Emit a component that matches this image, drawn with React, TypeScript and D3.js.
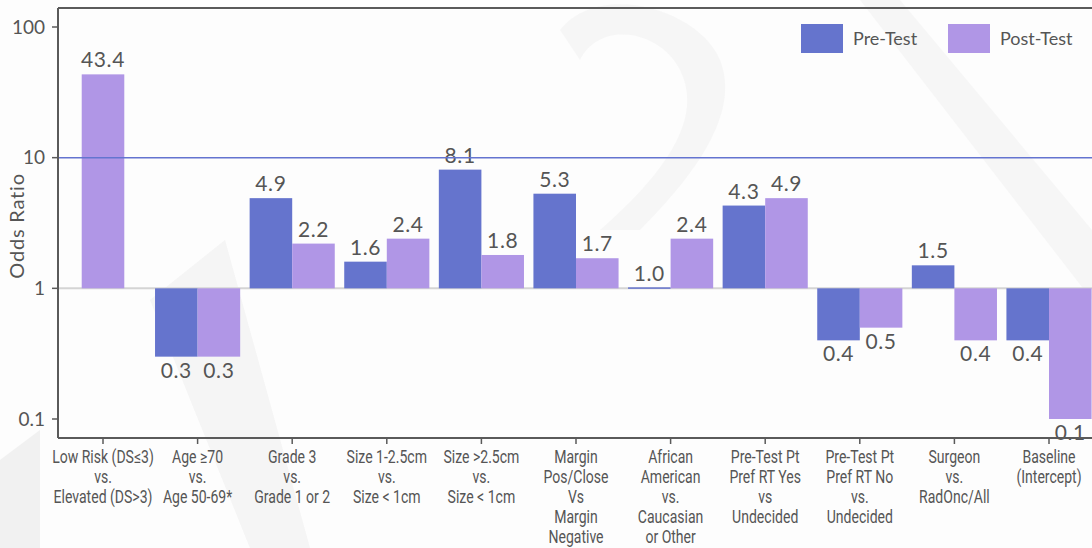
import React, { useEffect, useRef } from "react";
import * as d3 from "d3";

const categories: string[][] = [
  ["Low Risk (DS≤3)", "vs.", "Elevated (DS>3)"],
  ["Age ≥70", "vs.", "Age 50-69*"],
  ["Grade 3", "vs.", "Grade 1 or 2"],
  ["Size 1-2.5cm", "vs.", "Size < 1cm"],
  ["Size >2.5cm", "vs.", "Size < 1cm"],
  ["Margin", "Pos/Close", "Vs", "Margin", "Negative"],
  ["African", "American", "vs.", "Caucasian", "or Other"],
  ["Pre-Test Pt", "Pref RT Yes", "vs", "Undecided"],
  ["Pre-Test Pt", "Pref RT No", "vs.", "Undecided"],
  ["Surgeon", "vs.", "RadOnc/All"],
  ["Baseline", "(Intercept)"],
];
const preTest: (number | null)[] = [null, 0.3, 4.9, 1.6, 8.1, 5.3, 1.0, 4.3, 0.4, 1.5, 0.4];
const postTest: number[] = [43.4, 0.3, 2.2, 2.4, 1.8, 1.7, 2.4, 4.9, 0.5, 0.4, 0.1];
const yTicks: number[] = [0.1, 1, 10, 100];
const yTickLabels: string[] = ["0.1", "1", "10", "100"];
const seriesNames = ["Pre-Test", "Post-Test"];

const PRE = "#6574cd";
const POST = "#b096e6";
const TEXT = "#555555";
const AXIS = "#5a5a5a";
const FONT = "Lato, 'Open Sans', sans-serif";

export default function App() {
  const ref = useRef<SVGSVGElement>(null);
  useEffect(() => {
    const svg = d3.select(ref.current!);
    svg.selectAll("*").remove();
    const W = 1092, H = 548;
    const plotLeft = 58, plotTop = 8, plotBottom = 438;

    svg.append("rect").attr("width", W).attr("height", H).attr("fill", "#fdfdfd");

    // faint watermark shapes
    const wm = svg.append("g").attr("fill", "#f1f1f1");
    wm.append("path").attr("d", "M0,460 L40,430 L40,548 L0,548 Z");
    wm.append("path").attr("d", "M150,300 L225,240 L310,548 L250,548 Z").attr("opacity", 0.7);
    wm.append("path").attr("d", "M560,30 C600,-20 700,10 720,60 C740,110 700,170 640,230 L600,230 C680,160 700,110 680,70 C660,30 600,20 580,60 Z").attr("opacity", 0.6);
    wm.append("path").attr("d", "M860,0 L900,0 L1092,230 L1092,300 Z").attr("opacity", 0.6);

    const x = d3.scaleBand<number>()
      .domain(d3.range(categories.length))
      .range([55.7, 1096.3])
      .paddingInner(0.1)
      .paddingOuter(0.05);
    const y = d3.scaleLog().domain([0.1, 100]).range([419, 27]);
    const half = x.bandwidth() / 2;

    // reference line at 1
    svg.append("line").attr("x1", plotLeft).attr("x2", W)
      .attr("y1", y(1)).attr("y2", y(1)).attr("stroke", "#d4d4d4").attr("stroke-width", 2);

    const bars = svg.append("g");
    categories.forEach((_, i) => {
      const b0 = x(i)!;
      const pre = preTest[i];
      const post = postTest[i];
      const items: { v: number; x0: number; c: string }[] = [];
      if (pre == null) {
        items.push({ v: post, x0: b0 + half / 2, c: POST });
      } else {
        items.push({ v: pre, x0: b0, c: PRE });
        items.push({ v: post, x0: b0 + half, c: POST });
      }
      items.forEach((it) => {
        const yv = y(it.v), y1 = y(1);
        const top = Math.min(yv, y1), h = Math.max(Math.abs(yv - y1), 1.5);
        bars.append("rect").attr("x", it.x0).attr("y", it.v === 1 ? y1 - 1 : top)
          .attr("width", half).attr("height", h).attr("fill", it.c);
        const pos = it.v >= 1;
        bars.append("text").attr("x", it.x0 + half / 2)
          .attr("y", pos ? yv - 7 : yv + 21)
          .attr("text-anchor", "middle").attr("fill", TEXT)
          .attr("font-family", FONT).attr("font-size", 21).attr("letter-spacing", 0.6)
          .text(it.v.toFixed(1));
      });
    });

    // 10 line
    svg.append("line").attr("x1", plotLeft).attr("x2", W)
      .attr("y1", y(10)).attr("y2", y(10)).attr("stroke", "#6474d0").attr("stroke-width", 1.5);

    // axes frame
    svg.append("line").attr("x1", plotLeft).attr("x2", W).attr("y1", plotTop).attr("y2", plotTop)
      .attr("stroke", AXIS).attr("stroke-width", 2);
    svg.append("line").attr("x1", plotLeft).attr("x2", plotLeft).attr("y1", plotTop).attr("y2", plotBottom)
      .attr("stroke", AXIS).attr("stroke-width", 2);
    svg.append("line").attr("x1", plotLeft).attr("x2", W).attr("y1", plotBottom).attr("y2", plotBottom)
      .attr("stroke", AXIS).attr("stroke-width", 2);

    // y ticks
    yTicks.forEach((t, i) => {
      svg.append("line").attr("x1", plotLeft - 6).attr("x2", plotLeft)
        .attr("y1", y(t)).attr("y2", y(t)).attr("stroke", AXIS).attr("stroke-width", 1.5);
      svg.append("text").attr("x", plotLeft - 13).attr("y", y(t)).attr("dy", "0.35em")
        .attr("text-anchor", "end").attr("fill", TEXT)
        .attr("font-family", FONT).attr("font-size", 19)
        .text(yTickLabels[i]);
    });
    svg.append("text").attr("transform", `translate(24,${(plotTop + plotBottom) / 2 + 3}) rotate(-90)`)
      .attr("text-anchor", "middle").attr("fill", TEXT)
      .attr("font-family", FONT).attr("font-size", 20).attr("letter-spacing", 0.8)
      .text("Odds Ratio");

    // x ticks and labels
    categories.forEach((lines, i) => {
      const cx = x(i)! + half;
      svg.append("line").attr("x1", cx).attr("x2", cx).attr("y1", plotBottom).attr("y2", plotBottom + 6)
        .attr("stroke", AXIS).attr("stroke-width", 1.5);
      const t = svg.append("text").attr("text-anchor", "middle").attr("fill", TEXT)
        .attr("transform", `translate(${cx},0) scale(0.78,1)`)
        .attr("font-family", "Roboto, sans-serif")
        .attr("font-size", 18);
      lines.forEach((l, j) => {
        t.append("tspan").attr("x", 0).attr("y", 463 + j * 20).text(l);
      });
    });

    // legend
    const lg = svg.append("g").attr("font-family", FONT).attr("font-size", 18);
    [{ x: 801, c: PRE }, { x: 948, c: POST }].forEach((l, i) => {
      lg.append("rect").attr("x", l.x).attr("y", 24).attr("width", 42).attr("height", 29).attr("fill", l.c);
      lg.append("text").attr("x", l.x + 52).attr("y", 45).attr("fill", TEXT).text(seriesNames[i]);
    });
  }, []);
  return (
    <svg ref={ref} width={1092} height={548} style={{ position: "absolute", left: 0, top: 0 }} />
  );
}
